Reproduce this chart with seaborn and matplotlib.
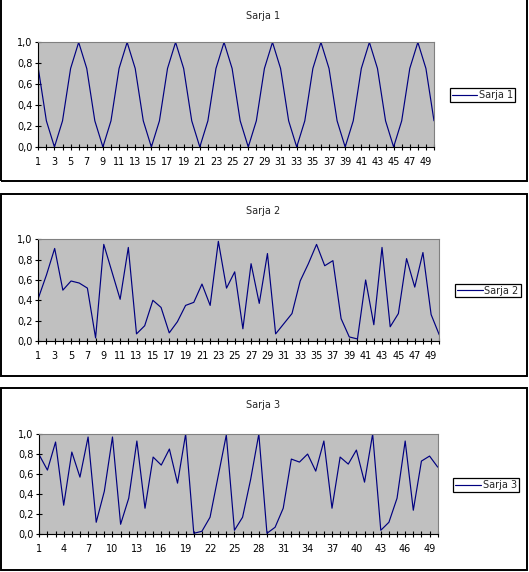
import numpy as np
import pandas as pd
import matplotlib
matplotlib.use("Agg")
import matplotlib.pyplot as plt
from matplotlib.patches import Rectangle
import seaborn as sns

# %%
# data
x_values = list(range(1, 51))

sarja_1 = [0.75, 0.25, 0.0, 0.25, 0.75, 1.0, 0.75, 0.25, 0.0, 0.25,
           0.75, 1.0, 0.75, 0.25, 0.0, 0.25, 0.75, 1.0, 0.75, 0.25,
           0.0, 0.25, 0.75, 1.0, 0.75, 0.25, 0.0, 0.25, 0.75, 1.0,
           0.75, 0.25, 0.0, 0.25, 0.75, 1.0, 0.75, 0.25, 0.0, 0.25,
           0.75, 1.0, 0.75, 0.25, 0.0, 0.25, 0.75, 1.0, 0.75, 0.25]

sarja_2 = [0.42, 0.65, 0.91, 0.50, 0.59, 0.57, 0.52, 0.03, 0.95, 0.68,
           0.41, 0.92, 0.07, 0.15, 0.40, 0.33, 0.08, 0.19, 0.35, 0.38,
           0.56, 0.35, 0.98, 0.52, 0.68, 0.12, 0.76, 0.37, 0.86, 0.07,
           0.17, 0.27, 0.59, 0.76, 0.95, 0.74, 0.79, 0.22, 0.04, 0.02,
           0.60, 0.16, 0.92, 0.14, 0.27, 0.81, 0.53, 0.87, 0.26, 0.06]

sarja_3 = [0.79, 0.64, 0.92, 0.29, 0.82, 0.57, 0.97, 0.12, 0.43, 0.97,
           0.10, 0.36, 0.93, 0.26, 0.77, 0.69, 0.85, 0.51, 1.00, 0.01,
           0.03, 0.17, 0.58, 0.99, 0.04, 0.17, 0.55, 1.00, 0.01, 0.07,
           0.26, 0.75, 0.72, 0.80, 0.63, 0.93, 0.26, 0.77, 0.70, 0.84,
           0.52, 1.00, 0.04, 0.12, 0.36, 0.93, 0.24, 0.73, 0.78, 0.67]

series_names = ["Sarja 1", "Sarja 2", "Sarja 3"]
y_ticks = [0.0, 0.2, 0.4, 0.6, 0.8, 1.0]
y_tick_labels = ["0,0", "0,2", "0,4", "0,6", "0,8", "1,0"]
label_step = [2, 2, 3]

# %%
W, H = 529, 572
sns.set_style("white")
plt.rcParams['font.family'] = ['DejaVu Sans']

fig = plt.figure(figsize=(W / 100, H / 100), dpi=100)
fig.patch.set_facecolor("white")


def fx(px):
    return px / W


def fy(py):
    return 1 - py / H


# pixel layout: panel box, plot area, title y, legend centre
layout = [
    dict(panel=(0.5, -2, 527, 181), plot=(38.3, 42.3, 434, 147), title=16, legend=(482.5, 95)),
    dict(panel=(0.5, 194, 527, 376), plot=(38.3, 239.3, 439.3, 341), title=211, legend=(488, 290.5)),
    dict(panel=(0.5, 388, 527, 570), plot=(39.3, 434, 437.7, 534.3), title=405, legend=(486, 485)),
]

all_series = [sarja_1, sarja_2, sarja_3]

for name, values, step, lay in zip(series_names, all_series, label_step, layout):
    l, t, r, b = lay["panel"]
    fig.patches.append(Rectangle((fx(l), fy(b)), fx(r - l), (b - t) / H,
                                 transform=fig.transFigure, fill=False,
                                 edgecolor="black", linewidth=1.4, zorder=0))

    pl, pt, pr, pb = lay["plot"]
    ax = fig.add_axes([fx(pl), fy(pb), fx(pr - pl), (pb - pt) / H])
    ax.set_facecolor("#C0C0C0")

    df = pd.DataFrame({"x": x_values, "y": values})
    sns.lineplot(data=df, x="x", y="y", ax=ax, color="#000080",
                 linewidth=0.85, label=name)

    ax.set_xlim(1, 50)
    ax.set_ylim(0, 1)
    ax.set_xticks(x_values)
    ax.set_xticklabels([str(v) if (v - 1) % step == 0 else "" for v in x_values])
    ax.set_yticks(y_ticks)
    ax.set_yticklabels(y_tick_labels)
    ax.set_xlabel("")
    ax.set_ylabel("")
    ax.tick_params(axis="both", direction="inout", length=4, width=0.8,
                   colors="black", labelsize=7)
    ax.tick_params(axis="x", pad=5)
    ax.tick_params(axis="y", pad=2)
    ax.tick_params(bottom=True, left=True)

    for side in ["top", "right"]:
        ax.spines[side].set_color("#808080")
        ax.spines[side].set_linewidth(0.8)
    for side in ["bottom", "left"]:
        ax.spines[side].set_color("black")
        ax.spines[side].set_linewidth(0.8)
        ax.spines[side].set_visible(True)

    fig.text(0.5 - 1 / W, fy(lay["title"]), name, ha="center", va="center", fontsize=7)

    lx, ly = lay["legend"]
    leg = ax.legend(loc="center", bbox_to_anchor=(fx(lx), fy(ly)),
                    bbox_transform=fig.transFigure, fontsize=7, frameon=True,
                    fancybox=False, edgecolor="black", framealpha=1,
                    borderpad=0.2, handlelength=2.6, handletextpad=0.2,
                    borderaxespad=0)
    leg.get_frame().set_linewidth(0.9)

fig.savefig("out.png", dpi=100, facecolor="white")
